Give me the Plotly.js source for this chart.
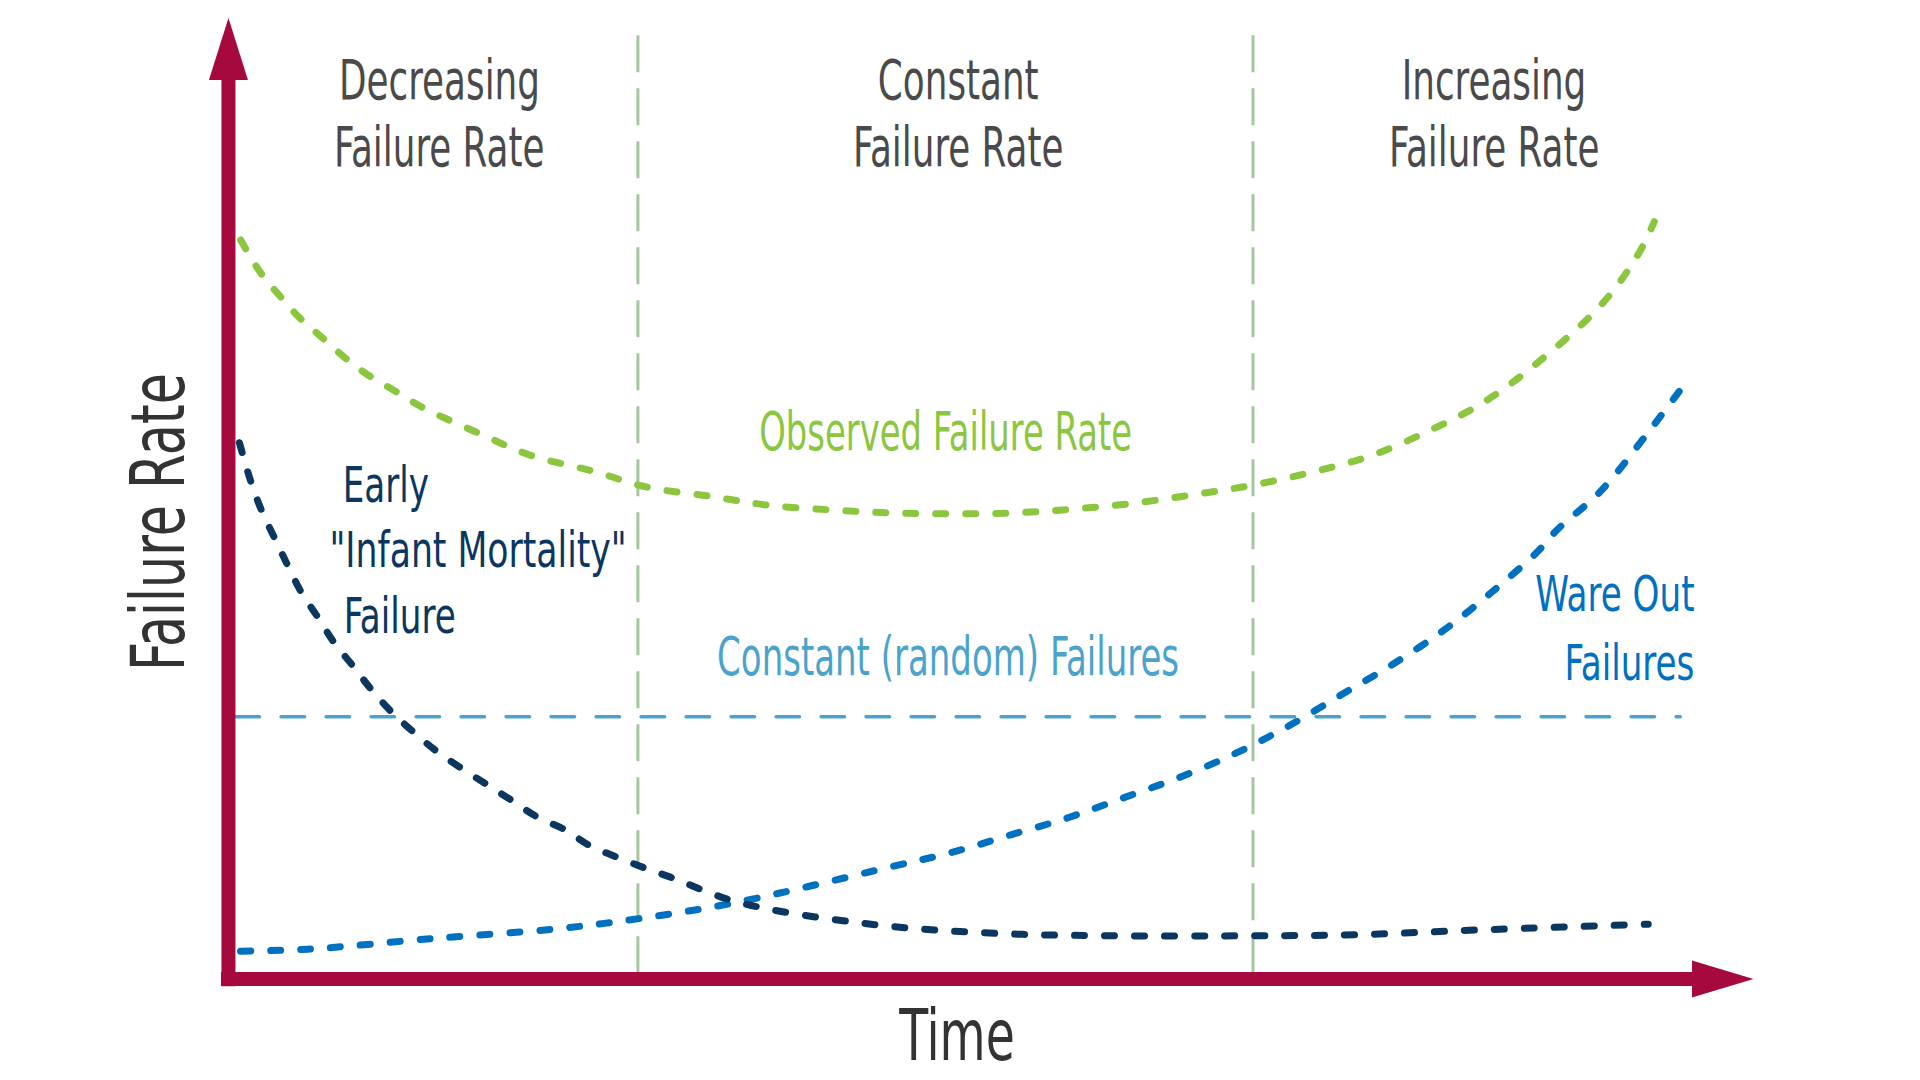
<!DOCTYPE html>
<html>
<head>
<meta charset="utf-8">
<script src="https://cdn.plot.ly/plotly-3.0.1.min.js"></script>
<style>
  html, body { margin: 0; padding: 0; background: #ffffff; }
  #chart { width: 1920px; height: 1080px; }
  .scatterlayer .js-line { stroke-linecap: round; }
  .annotation-text { transform-box: fill-box; transform-origin: center; }
</style>
</head>
<body>
<div id="chart"></div>
<script>
// ---- data (time in % of life, failure rate in relative units) ----
const observedT = [0.8,2.1,3.3,4.6,6.1,7.6,9.1,10.8,12.7,16.4,19.8,24.0,27.4,31.7,35.4,39.6,43.5,47.5,51.5,55.4,59.3,63.3,67.2,71.2,75.0,78.8,82.3,85.9,90.1,92.4,93.5];
const observedY = [76.9,73.5,71.2,68.9,66.8,64.7,62.9,61.3,59.5,56.8,54.5,52.8,51.2,50.2,49.3,48.8,48.5,48.4,48.5,48.9,49.5,50.4,51.4,52.8,54.5,57.1,60.0,64.2,70.3,75.3,78.8];

const earlyT = [0.72,1.44,2.16,3.08,3.93,4.79,5.84,6.89,8.20,9.38,10.69,12.13,13.57,15.21,16.98,18.56,20.20,22.10,23.67,25.44,27.21,28.98,33.4,41.6,49.6,57.7,67.5,73.8,81.9,93.1];
const earlyY = [55.8,51.9,48.8,45.7,42.9,40.2,37.7,35.1,32.5,30.1,27.8,25.7,23.8,22.0,20.2,18.6,16.9,15.5,13.9,12.7,11.6,10.6,8.0,5.8,4.8,4.5,4.5,4.6,5.1,5.7];

const wearT = [0.79,5.2,13.3,21.4,27.0,33.4,43.5,47.5,51.3,55.1,58.6,62.4,66.2,69.6,73.0,76.3,79.7,82.8,85.8,87.1,90.0,93.2,95.3];
const wearY = [2.9,3.1,4.2,5.2,6.3,8.0,11.7,13.2,15.0,16.8,18.8,21.0,23.6,26.4,29.6,32.7,36.3,40.2,44.4,46.7,50.8,57.1,61.5];

const constantT = [0.5, 95.2];
const constantY = [27.3, 27.3];

const phaseBounds = [26.85, 67.18];
const phaseLabels = [["Decreasing", "Failure Rate"], ["Constant", "Failure Rate"], ["Increasing", "Failure Rate"]];
const phaseCenters = [13.87, 47.90, 83.0];

// ---- styles ----
const GREEN = "#8cc63f", NAVY = "#0b3660", BLUE = "#0070c0", LIGHTBLUE = "#4ba3cc";
const AXIS = "#a6093d", DIV = "#a6c6a2", GRAY = "#4a4a4a", DARK = "#333333";
const FONT = "Liberation Sans Narrow, DejaVu Sans Condensed, sans-serif";

const curveDash = "10px,20px";
const traces = [
  {x: constantT, y: constantY, mode: "lines", line: {color: LIGHTBLUE, width: 3.5, dash: "23.5px,21.5px"}},
  {x: observedT, y: observedY, mode: "lines", line: {color: GREEN, width: 7, dash: curveDash, shape: "spline", smoothing: 1}},
  {x: wearT, y: wearY, mode: "lines", line: {color: BLUE, width: 7, dash: curveDash, shape: "spline", smoothing: 1}},
  {x: earlyT, y: earlyY, mode: "lines", line: {color: NAVY, width: 7, dash: curveDash, shape: "spline", smoothing: 1}}
];

const shapes = [];
phaseBounds.forEach(b => shapes.push({type: "line", xref: "x", yref: "y", x0: b, x1: b, y0: 98.2, y1: 0,
  line: {color: DIV, width: 3, dash: "37px,16px"}, layer: "below"}));
// axes with arrows
shapes.push({type: "line", xref: "x", yref: "y", x0: 0, x1: 0, y0: -0.75, y1: 93.6, line: {color: AXIS, width: 14}});
shapes.push({type: "path", xref: "x", yref: "y", path: "M -1.28 93.55 L 1.28 93.55 L 0 100 Z", fillcolor: AXIS, line: {width: 0}});
shapes.push({type: "line", xref: "x", yref: "y", x0: -0.49, x1: 96.0, y0: 0, y1: 0, line: {color: AXIS, width: 14}});
shapes.push({type: "path", xref: "x", yref: "y", path: "M 95.97 -1.925 L 95.97 1.925 L 100 0 Z", fillcolor: AXIS, line: {width: 0}});

const annotations = [];
const stretch = [];
function txt(text, x, y, size, color, sx, extra) {
  annotations.push(Object.assign({text: text, x: x, y: y, xref: "x", yref: "y", showarrow: false,
    xanchor: "center", yanchor: "middle", font: {family: FONT, size: size, color: color}}, extra || {}));
  stretch.push(sx);
}
phaseLabels.forEach((lines, i) => {
  txt(lines[0], phaseCenters[i], 93.55, 56, GRAY, 0.71);
  txt(lines[1], phaseCenters[i], 86.63, 56, GRAY, 0.71);
});
txt("Observed Failure Rate", 47.05, 57.02, 53, GREEN, 0.71);
txt("Constant (random) Failures", 47.18, 33.51, 54, LIGHTBLUE, 0.70);
txt("Early", 10.33, 51.40, 50, NAVY, 0.76);
txt("\"Infant Mortality\"", 16.39, 44.64, 50, NAVY, 0.77);
txt("Failure", 11.2, 37.77, 50, NAVY, 0.76);
txt("Ware Out", 90.9, 40.06, 50, BLUE, 0.76);
txt("Failures", 91.9, 32.9, 50, BLUE, 0.76);
txt("Time", 47.77, -5.83, 72, DARK, 0.73);
txt("Failure Rate", -4.62, 47.55, 74, DARK, 0.76, {textangle: -90});

const layout = {
  width: 1920, height: 1080,
  margin: {l: 0, r: 0, t: 0, b: 0},
  paper_bgcolor: "#ffffff", plot_bgcolor: "#ffffff",
  showlegend: false,
  xaxis: {range: [-14.98, 110.92], visible: false, fixedrange: true},
  yaxis: {range: [-10.51, 101.87], visible: false, fixedrange: true},
  shapes: shapes,
  annotations: annotations,
  hovermode: false
};

Plotly.newPlot("chart", traces, layout, {displayModeBar: false, staticPlot: true}).then(gd => {
  gd.querySelectorAll("g.annotation").forEach(g => {
    const i = +g.getAttribute("data-index");
    const t = g.querySelector("text.annotation-text");
    if (t && stretch[i]) t.style.transform = "scaleX(" + stretch[i] + ")";
  });
});
</script>
</body>
</html>
